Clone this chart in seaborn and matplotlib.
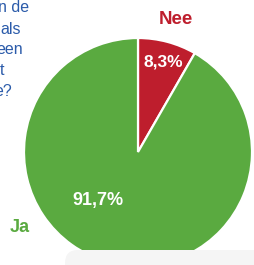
import matplotlib
matplotlib.use("Agg")
import matplotlib.pyplot as plt
import seaborn as sns
from matplotlib.patches import FancyBboxPatch

sns.set_style("white")
plt.rcParams['font.family'] = ['Liberation Sans', 'DejaVu Sans']

categories = ["Nee", "Ja"]
values = [8.3, 91.7]
pct_labels = ["8,3%", "91,7%"]
colors = ["#BE1E2D", "#5AAA40"]
question_fragments = ["n de", "als", "een", "t", "e?"]

W, H = 254, 265
fig = plt.figure(figsize=(W / 100, H / 100), dpi=100)
fig.patch.set_facecolor("white")

# faint background shape
bg = FancyBboxPatch((65 / W, -20 / H), 200 / W, 272 / H - 250 / H + 20 / H - 7 / H,
                    boxstyle="round,pad=0,rounding_size=0.05",
                    transform=fig.transFigure, facecolor="#F5F5F5",
                    edgecolor="none", zorder=0)
fig.patches.append(bg)

# question text fragments (cut off at left)
line_y = [8, 29, 50, 71, 92]
line_x = [29, 21, 23, 4, 12]
for txt, x, y in zip(question_fragments, line_x, line_y):
    fig.text(x / W, 1 - y / H, txt, ha="right", va="center",
             fontsize=11.5, color="#2B5BAA")

cx, cy, r = 138, 152, 114
ax = fig.add_axes([(cx - r) / W, (H - cy - r) / H, 2 * r / W, 2 * r / H])
ax.pie(values, colors=colors, startangle=90, counterclock=False, radius=1,
       wedgeprops=dict(edgecolor="white", linewidth=1.6))
ax.set_xlim(-1, 1)
ax.set_ylim(-1, 1)
ax.set_aspect("equal")
ax.axis("off")

# percentage labels (white inside slices)
fig.text(163 / W, 1 - 62 / H, pct_labels[0], ha="center", va="center",
         fontsize=12.5, fontweight="bold", color="white")
fig.text(98 / W, 1 - 200 / H, pct_labels[1], ha="center", va="center",
         fontsize=13, fontweight="bold", color="white")

# category labels
fig.text(176 / W, 1 - 20 / H, categories[0], ha="center", va="center",
         fontsize=13.5, fontweight="bold", color=colors[0])
fig.text(20 / W, 1 - 228 / H, categories[1], ha="center", va="center",
         fontsize=13, fontweight="bold", color=colors[1])

fig.savefig("out.png", dpi=100)
